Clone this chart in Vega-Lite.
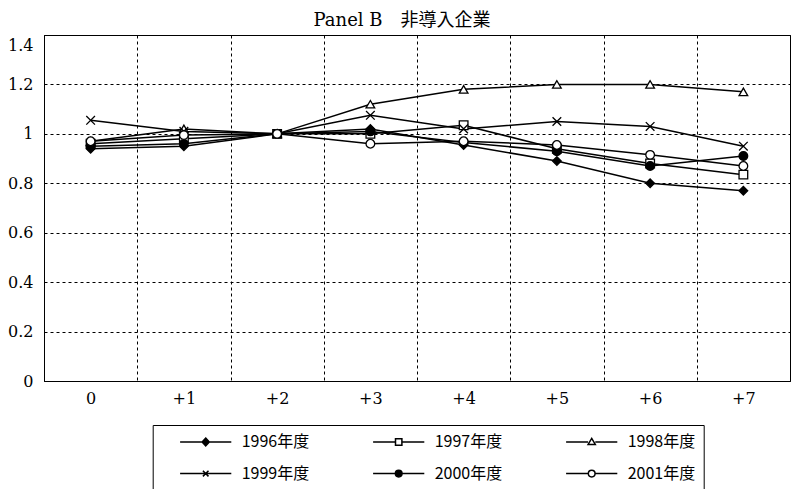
{
  "$schema": "https://vega.github.io/schema/vega-lite/v6.json",
  "width": 746,
  "height": 346,
  "autosize": "none",
  "padding": {"left": 44, "top": 35, "right": 2, "bottom": 108},
  "background": "white",
  "config": {
    "view": {"stroke": "black", "strokeWidth": 1},
    "axis": {"labelColor": "black", "domainColor": "black", "gridColor": "black", "gridOpacity": 1, "gridDash": [3, 3], "gridWidth": 1}
  },
  "title": {
    "text": "Panel B　非導入企業",
    "font": "DejaVu Serif, Noto Sans CJK JP",
    "fontSize": 18,
    "fontWeight": "normal",
    "color": "black",
    "anchor": "middle",
    "offset": 5,
    "dx": -15
  },
  "data": {
    "values": [
      {"series": "1996年度", "period": "0", "value": 0.94},
      {"series": "1996年度", "period": "+1", "value": 0.95},
      {"series": "1996年度", "period": "+2", "value": 1.0},
      {"series": "1996年度", "period": "+3", "value": 1.02},
      {"series": "1996年度", "period": "+4", "value": 0.955},
      {"series": "1996年度", "period": "+5", "value": 0.89},
      {"series": "1996年度", "period": "+6", "value": 0.8},
      {"series": "1996年度", "period": "+7", "value": 0.77},
      {"series": "1997年度", "period": "0", "value": 0.96},
      {"series": "1997年度", "period": "+1", "value": 0.98},
      {"series": "1997年度", "period": "+2", "value": 1.0},
      {"series": "1997年度", "period": "+3", "value": 1.0},
      {"series": "1997年度", "period": "+4", "value": 1.035},
      {"series": "1997年度", "period": "+5", "value": 0.94},
      {"series": "1997年度", "period": "+6", "value": 0.88},
      {"series": "1997年度", "period": "+7", "value": 0.835},
      {"series": "1998年度", "period": "0", "value": 0.97},
      {"series": "1998年度", "period": "+1", "value": 1.02},
      {"series": "1998年度", "period": "+2", "value": 1.0},
      {"series": "1998年度", "period": "+3", "value": 1.12},
      {"series": "1998年度", "period": "+4", "value": 1.18},
      {"series": "1998年度", "period": "+5", "value": 1.2},
      {"series": "1998年度", "period": "+6", "value": 1.2},
      {"series": "1998年度", "period": "+7", "value": 1.17},
      {"series": "1999年度", "period": "0", "value": 1.055},
      {"series": "1999年度", "period": "+1", "value": 1.01},
      {"series": "1999年度", "period": "+2", "value": 1.0},
      {"series": "1999年度", "period": "+3", "value": 1.075},
      {"series": "1999年度", "period": "+4", "value": 1.02},
      {"series": "1999年度", "period": "+5", "value": 1.05},
      {"series": "1999年度", "period": "+6", "value": 1.03},
      {"series": "1999年度", "period": "+7", "value": 0.95},
      {"series": "2000年度", "period": "0", "value": 0.95},
      {"series": "2000年度", "period": "+1", "value": 0.96},
      {"series": "2000年度", "period": "+2", "value": 1.0},
      {"series": "2000年度", "period": "+3", "value": 1.01},
      {"series": "2000年度", "period": "+4", "value": 0.965},
      {"series": "2000年度", "period": "+5", "value": 0.93},
      {"series": "2000年度", "period": "+6", "value": 0.87},
      {"series": "2000年度", "period": "+7", "value": 0.91},
      {"series": "2001年度", "period": "0", "value": 0.97},
      {"series": "2001年度", "period": "+1", "value": 0.995},
      {"series": "2001年度", "period": "+2", "value": 1.0},
      {"series": "2001年度", "period": "+3", "value": 0.96},
      {"series": "2001年度", "period": "+4", "value": 0.97},
      {"series": "2001年度", "period": "+5", "value": 0.955},
      {"series": "2001年度", "period": "+6", "value": 0.915},
      {"series": "2001年度", "period": "+7", "value": 0.87}
    ]
  },
  "encoding": {
    "x": {
      "field": "period",
      "type": "ordinal",
      "sort": ["0", "+1", "+2", "+3", "+4", "+5", "+6", "+7"],
      "scale": {"paddingInner": 0, "paddingOuter": 0},
      "axis": {
        "title": null,
        "labelAngle": 0,
        "labelFont": "DejaVu Serif",
        "labelFontSize": 16,
        "labelPadding": 9,
        "ticks": false,
        "grid": true,
        "tickBand": "extent"
      }
    },
    "y": {
      "field": "value",
      "type": "quantitative",
      "scale": {"domain": [0, 1.4], "nice": false, "zero": true},
      "axis": {
        "title": null,
        "values": [0, 0.2, 0.4, 0.6, 0.8, 1, 1.2, 1.4],
        "format": "~g",
        "labelFont": "DejaVu Serif",
        "labelFontSize": 16,
        "labelPadding": 11,
        "ticks": false,
        "grid": true,
        "labelOffset": {"condition": {"test": "datum.value >= 1.39", "value": 10}, "value": 0}
      }
    }
  },
  "layer": [
    {
      "mark": {"type": "line", "color": "black", "strokeWidth": 1.5},
      "encoding": {"detail": {"field": "series"}}
    },
    {
      "mark": {"type": "point", "filled": true, "stroke": "black", "strokeWidth": 1.3, "size": 75, "opacity": 1},
      "encoding": {
        "shape": {
          "field": "series",
          "type": "nominal",
          "legend": null,
          "scale": {
            "domain": ["1996年度", "1997年度", "1998年度", "1999年度", "2000年度", "2001年度"],
            "range": ["diamond", "square", "triangle-up", "M-1,-1L1,1M-1,1L1,-1", "circle", "circle"]
          }
        },
        "fill": {
          "field": "series",
          "type": "nominal",
          "legend": null,
          "scale": {
            "domain": ["1996年度", "1997年度", "1998年度", "1999年度", "2000年度", "2001年度"],
            "range": ["black", "white", "white", "white", "black", "white"]
          }
        }
      }
    },
    {
      "mark": {"type": "point", "filled": true, "stroke": "black", "strokeWidth": 1.5, "opacity": 0},
      "encoding": {
        "shape": {
          "field": "series",
          "type": "nominal",
          "scale": {
            "domain": ["1996年度", "1997年度", "1998年度", "1999年度", "2000年度", "2001年度"],
            "range": [
              "M1.3,0H7.7M4.5,-0.5L4.95,0L4.5,0.5L4.05,0Z",
              "M1.3,0H4.1M4.9,0H7.7M4.1,-0.4H4.9V0.4H4.1Z",
              "M1.3,0H4.05M4.95,0H7.7M4.5,-0.45L4.95,0.3L4.05,0.3Z",
              "M1.3,0H7.7M4.15,-0.35L4.85,0.35M4.15,0.35L4.85,-0.35",
              "M1.3,0H7.7M4.08,0A0.42,0.42 0 1,0 4.92,0A0.42,0.42 0 1,0 4.08,0Z",
              "M1.3,0H4.08M4.92,0H7.7M4.08,0A0.42,0.42 0 1,0 4.92,0A0.42,0.42 0 1,0 4.08,0Z"
            ]
          },
          "legend": {
            "title": null,
            "orient": "none",
            "legendX": 108.7,
            "legendY": 390,
            "direction": "horizontal",
            "columns": 3,
            "padding": 8,
            "strokeColor": "black",
            "symbolSize": 256,
            "symbolStrokeColor": "black",
            "symbolStrokeWidth": 1.5,
            "symbolOpacity": 1,
            "labelFont": "Noto Sans CJK JP",
            "labelFontSize": 16,
            "labelColor": "black",
            "labelOffset": 63,
            "labelLimit": 300,
            "columnPadding": 44,
            "rowPadding": 14.6,
            "encode": {"symbols": {"update": {"stroke": {"value": "black"}, "strokeWidth": {"value": 1.5}, "opacity": {"value": 1}}}}
          }
        },
        "fill": {
          "field": "series",
          "type": "nominal",
          "scale": {
            "domain": ["1996年度", "1997年度", "1998年度", "1999年度", "2000年度", "2001年度"],
            "range": ["black", "white", "white", "white", "black", "white"]
          },
          "legend": {
            "title": null,
            "orient": "none",
            "legendX": 108.7,
            "legendY": 390,
            "direction": "horizontal",
            "columns": 3,
            "padding": 8,
            "strokeColor": "black",
            "symbolSize": 256,
            "symbolStrokeColor": "black",
            "symbolStrokeWidth": 1.5,
            "symbolOpacity": 1,
            "labelFont": "Noto Sans CJK JP",
            "labelFontSize": 16,
            "labelColor": "black",
            "labelOffset": 63,
            "labelLimit": 300,
            "columnPadding": 44,
            "rowPadding": 14.6,
            "encode": {"symbols": {"update": {"stroke": {"value": "black"}, "strokeWidth": {"value": 1.5}, "opacity": {"value": 1}}}}
          }
        }
      }
    }
  ],
  "resolve": {"scale": {"shape": "independent", "fill": "independent"}}
}
